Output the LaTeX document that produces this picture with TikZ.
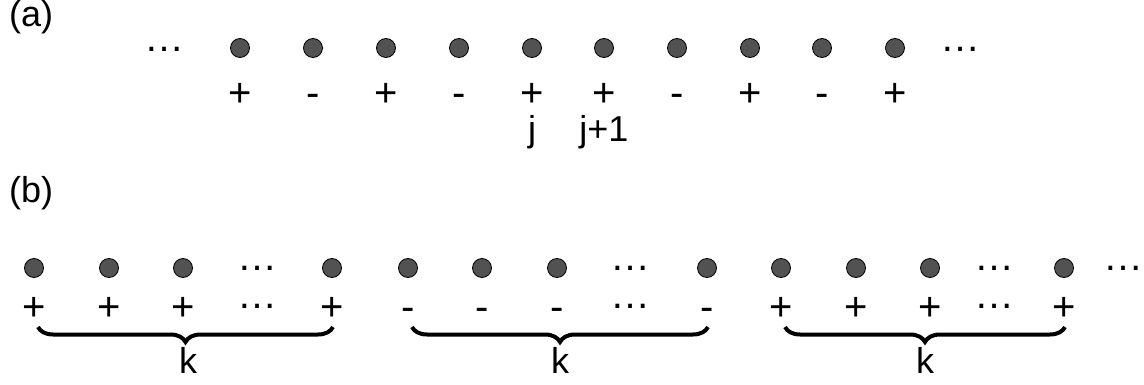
\documentclass[tikz,border=0pt]{standalone}
\usepackage{fontspec}
\setmainfont{Liberation Sans}
\usetikzlibrary{decorations.pathreplacing}
\begin{document}
\begin{tikzpicture}[x=1pt,y=-1pt,
  site/.style={circle,draw=black,line width=0.8pt,fill=black!68,minimum size=19pt,inner sep=0pt},
  lbl/.style={anchor=base,inner sep=0pt,font=\fontsize{36}{40}\selectfont},
  sgn/.style={anchor=base,inner sep=0pt,font=\fontsize{40}{44}\selectfont},
  brc/.style={decorate,decoration={brace,mirror,amplitude=15pt},line width=4pt}]
\useasboundingbox (0,0) rectangle (1144,385);
% (a)
\node[lbl,anchor=base west] (la) at (9,27) {(a)};
\node[sgn] (ad1) at (164,52) {…};
\node[sgn] (ad2) at (960,52) {…};
\foreach \i/\x/\s in {1/240/+,2/313/-,3/386/+,4/459/-,5/532/+,6/604/+,7/677/-,8/750/+,9/822/-,10/895/+}{
  \node[site] (a\i) at (\x,48) {};
  \node[sgn] (as\i) at (\x,107) {\s};
}
\node[lbl] (j) at (532,142) {j};
\node[lbl] (j1) at (604,142) {j+1};
% (b)
\node[lbl,anchor=base west] (lb) at (9,203) {(b)};
\foreach \g/\s/\xa/\xb/\xc/\xd/\xe in {1/+/34/109/183/257/332,2/-/408/482/557/630/707,3/+/781/856/930/994/1064}{
  \node[site] (b\g c1) at (\xa,268) {};
  \node[site] (b\g c2) at (\xb,268) {};
  \node[site] (b\g c3) at (\xc,268) {};
  \node[sgn] (b\g dd) at (\xd,270) {…};
  \node[site] (b\g c4) at (\xe,268) {};
  \node[sgn] (b\g s1) at (\xa,320.5) {\s};
  \node[sgn] (b\g s2) at (\xb,320.5) {\s};
  \node[sgn] (b\g s3) at (\xc,320.5) {\s};
  \node[sgn] (b\g sd) at (\xd,308) {…};
  \node[sgn] (b\g s4) at (\xe,320.5) {\s};
  \coordinate (b\g L) at ([xshift=4pt]b\g s1.base |- 0,327);
  \coordinate (b\g R) at ([xshift=1pt]b\g s4.base |- 0,327);
  \draw[brc] (b\g L) -- (b\g R);
}
\node[sgn] (bend) at (1123,270) {…};
\node[lbl] (k1) at (188,373) {k};
\node[lbl] (k2) at (560,373) {k};
\node[lbl] (k3) at (925,373) {k};
\end{tikzpicture}
\end{document}
